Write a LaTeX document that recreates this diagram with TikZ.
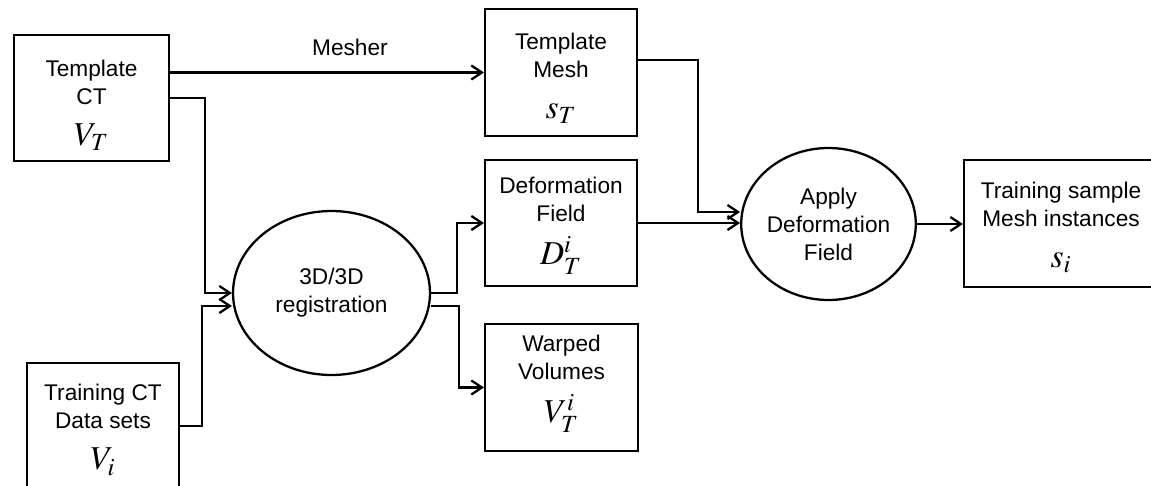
\documentclass[tikz,border=0pt]{standalone}
\usepackage{mathptmx}
\usepackage[no-math]{fontspec}
\setmainfont{Liberation Sans}
\usetikzlibrary{shapes.geometric,arrows.meta,calc}

\tikzset{
  >={Straight Barb[length=6pt,width=8pt]},
  txt/.style={font=\fontsize{12.9}{15.9}\selectfont},
  block/.style={txt, draw, line width=1.3pt, rectangle, align=center, inner sep=0pt},
  process/.style={txt, draw, line width=1.3pt, ellipse, align=center, inner sep=0pt},
  lift/.style={text depth=0pt, text height=#1},
  link/.style={line width=1.3pt, ->}
}
\newcommand{\sym}[1]{\fontsize{19}{19}\selectfont$#1$}

\begin{document}
\begin{tikzpicture}[x=0.02cm, y=-0.02cm]
            \useasboundingbox (0,0) rectangle (1151,486);
            % Input volumes
            \node[block, minimum width=3.1cm, minimum height=2.52cm, lift=1.92cm] (tct) at (91.5,98) {Template\\CT\\[7.5pt]\sym{V_T}};
            \node[block, minimum width=3.04cm, minimum height=2.52cm, lift=1.76cm] (tds) at (103,426) {Training CT\\Data sets\\[7.5pt]\sym{V_i}};
            % Registration
            \node[process, minimum width=3.94cm, minimum height=3.28cm] (reg) at (331.5,293) {3D/3D\\registration};
            % Intermediate results
            \node[block, minimum width=3.04cm, minimum height=2.54cm, lift=1.86cm] (tmesh) at (561,72.5) {Template\\Mesh\\[7.5pt]\sym{s_T}};
            \node[block, minimum width=3.04cm, minimum height=2.52cm, lift=1.68cm] (dfield) at (561,223) {Deformation\\Field\\[7.5pt]\sym{D_T^i}};
            \node[block, minimum width=3.06cm, minimum height=2.54cm, lift=1.42cm] (warp) at (561.5,387.5) {Warped\\Volumes\\[7.5pt]\sym{V_T^i}};
            % Deformation and output
            \node[process, minimum width=2.86cm, minimum height=3.04cm] (apply) at (828.5,224) {Apply\\Deformation\\Field};
            \node[block, minimum width=3.88cm, minimum height=2.54cm, lift=1.78cm] (tsample) at (1061,223.5) {Training sample\\Mesh instances\\[7.5pt]\sym{s_i}};
            % Connectors
            \draw[link] (tct.east |- tmesh.west) -- node[txt, pos=0.573, yshift=0.5cm] (mesher) {Mesher} (tmesh.west);
            \draw[link] (tct.east) -| (205,293) -- (reg.west);
            \draw[link] (tds.east) -| (202,306) -- ($(reg.west)+(0,13)$);
            \draw[link] (reg.east) -| (457,223) -- (dfield.west);
            \draw[link] ($(reg.east)+(0,13)$) -| (459,387.5) -- (warp.west);
            \draw[link] ($(tmesh.east)+(0,-12.5)$) -| (698,212) -- ($(apply.west)+(0,-12)$);
            \draw[link] (dfield.east) -- (dfield.east -| apply.west);
            \draw[link] (apply.east) -- (apply.east -| tsample.west);
        \end{tikzpicture}
\end{document}
